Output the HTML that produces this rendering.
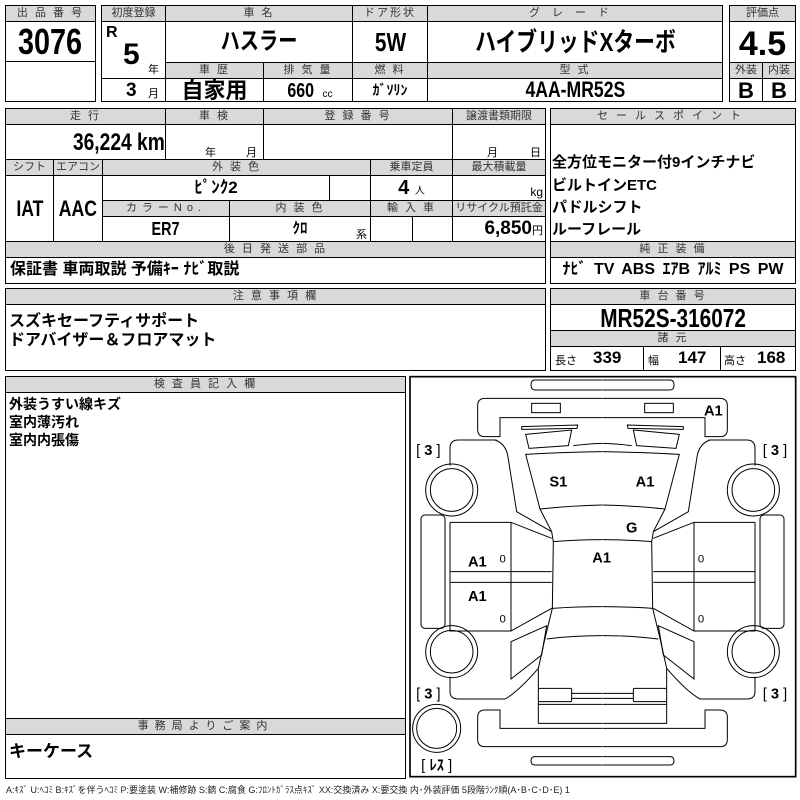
<!DOCTYPE html>
<html><head><meta charset="utf-8">
<style>
body{margin:0;width:800px;height:800px;background:#fff;position:relative;overflow:hidden;font-family:"Liberation Sans","Noto Sans CJK JP",sans-serif;color:#000}
.c{position:absolute;box-sizing:border-box;border:1px solid #000;overflow:hidden;white-space:nowrap}
.g{background:#d9d9d9;font-size:11px;text-align:center;line-height:14px;color:#333;letter-spacing:2px}
.b{font-family:"Liberation Sans Narrow","Liberation Sans","Noto Sans CJK JP",sans-serif;font-weight:bold;text-align:center}
.t{position:absolute;white-space:nowrap}
.k{font-family:"Liberation Sans","Noto Sans CJK JP",sans-serif;font-weight:bold}
.n{display:inline-block;transform:scaleX(.8)}
</style></head><body>

<div class="c g" style="left:5px;top:5px;width:91px;height:17px">出 品 番 号</div>
<div class="c b" style="left:5px;top:21px;width:91px;height:41px;font-size:36px;line-height:39px"><span class="n">3076</span></div>
<div class="c" style="left:5px;top:61px;width:91px;height:41px"></div>

<div class="c g" style="left:101px;top:5px;width:65px;height:17px;letter-spacing:0">初度登録</div>
<div class="c" style="left:101px;top:21px;width:65px;height:58px"></div>
<div class="c" style="left:101px;top:78px;width:65px;height:24px"></div>
<div class="t b" style="left:106px;top:24px;font-size:16px">R</div>
<div class="t b" style="left:123px;top:38px;font-size:30px">5</div>
<div class="t" style="left:148px;top:61px;font-size:11px">年</div>
<div class="t b" style="left:126px;top:80px;font-size:19px">3</div>
<div class="t" style="left:148px;top:85px;font-size:11px">月</div>

<div class="c g" style="left:165px;top:5px;width:188px;height:17px">車 名</div>
<div class="c b k" style="left:165px;top:21px;width:188px;height:42px;font-size:24px;line-height:40px"><span class="n">ハスラー</span></div>
<div class="c g" style="left:352px;top:5px;width:76px;height:17px">ドア形状</div>
<div class="c b" style="left:352px;top:21px;width:76px;height:42px;font-size:26px;line-height:40px"><span class="n">5W</span></div>
<div class="c g" style="left:427px;top:5px;width:296px;height:17px;letter-spacing:12px">グレード</div>
<div class="c b k" style="left:427px;top:21px;width:296px;height:42px;font-size:26px;line-height:40px"><span class="n">ハイブリッドXターボ</span></div>

<div class="c g" style="left:165px;top:62px;width:99px;height:17px">車 歴</div>
<div class="c g" style="left:263px;top:62px;width:90px;height:17px">排 気 量</div>
<div class="c g" style="left:352px;top:62px;width:76px;height:17px">燃 料</div>
<div class="c g" style="left:427px;top:62px;width:296px;height:17px">型 式</div>
<div class="c b k" style="left:165px;top:78px;width:99px;height:24px;font-size:22px;line-height:24px">自家用</div>
<div class="c b" style="left:263px;top:78px;width:90px;height:24px;font-size:20px;line-height:24px"><span class="n">660</span> <span style="font-size:10px;font-weight:normal">cc</span></div>
<div class="c b k" style="left:352px;top:78px;width:76px;height:24px;font-size:14px;line-height:22px">ｶﾞｿﾘﾝ</div>
<div class="c b" style="left:427px;top:78px;width:296px;height:24px;font-size:22px;line-height:22px"><span class="n">4AA-MR52S</span></div>

<div class="c g" style="left:729px;top:5px;width:67px;height:17px;letter-spacing:0">評価点</div>
<div class="c b" style="left:729px;top:21px;width:67px;height:42px;font-size:34px;line-height:44px">4.5</div>
<div class="c g" style="left:729px;top:62px;width:34px;height:17px;letter-spacing:0">外装</div>
<div class="c g" style="left:762px;top:62px;width:34px;height:17px;letter-spacing:0">内装</div>
<div class="c b" style="left:729px;top:78px;width:34px;height:24px;font-size:22px;line-height:24px">B</div>
<div class="c b" style="left:762px;top:78px;width:34px;height:24px;font-size:22px;line-height:24px">B</div>

<div class="c g" style="left:5px;top:108px;width:161px;height:17px">走 行</div>
<div class="c g" style="left:165px;top:108px;width:99px;height:17px">車 検</div>
<div class="c g" style="left:263px;top:108px;width:190px;height:17px">登 録 番 号</div>
<div class="c g" style="left:452px;top:108px;width:94px;height:17px;letter-spacing:0">譲渡書類期限</div>
<div class="c b" style="left:5px;top:124px;width:161px;height:36px;font-size:24px;line-height:36px;text-align:right;padding-right:0"><span class="n" style="transform-origin:right">36,224 km</span></div>
<div class="c" style="left:165px;top:124px;width:99px;height:36px"></div>
<div class="t" style="left:205px;top:144px;font-size:11px">年</div><div class="t" style="left:246px;top:144px;font-size:11px">月</div>
<div class="c" style="left:263px;top:124px;width:190px;height:36px"></div>
<div class="c" style="left:452px;top:124px;width:94px;height:36px"></div>
<div class="t" style="left:487px;top:144px;font-size:11px">月</div><div class="t" style="left:530px;top:144px;font-size:11px">日</div>

<div class="c g" style="left:5px;top:159px;width:49px;height:17px;letter-spacing:0">シフト</div>
<div class="c g" style="left:53px;top:159px;width:50px;height:17px;letter-spacing:0">エアコン</div>
<div class="c g" style="left:102px;top:159px;width:269px;height:17px">外 装 色</div>
<div class="c g" style="left:370px;top:159px;width:83px;height:17px;letter-spacing:0">乗車定員</div>
<div class="c g" style="left:452px;top:159px;width:94px;height:17px;letter-spacing:0">最大積載量</div>
<div class="c b" style="left:5px;top:175px;width:49px;height:67px;font-size:22px;line-height:65px"><span class="n">IAT</span></div>
<div class="c b" style="left:53px;top:175px;width:50px;height:67px;font-size:22px;line-height:65px"><span class="n">AAC</span></div>
<div class="c b k" style="left:102px;top:175px;width:228px;height:26px;font-size:17px;line-height:24px">ﾋﾟﾝｸ2</div>
<div class="c" style="left:329px;top:175px;width:42px;height:26px"></div>
<div class="c b" style="left:370px;top:175px;width:83px;height:26px;font-size:20px;line-height:24px">4 <span style="font-size:10px;font-weight:normal">人</span></div>
<div class="c" style="left:452px;top:175px;width:94px;height:26px;font-size:12px;text-align:right;line-height:32px;padding-right:2px">kg</div>
<div class="c g" style="left:102px;top:200px;width:128px;height:17px;letter-spacing:5px">カラーNo.</div>
<div class="c g" style="left:229px;top:200px;width:142px;height:17px">内 装 色</div>
<div class="c g" style="left:370px;top:200px;width:83px;height:17px">輸 入 車</div>
<div class="c g" style="left:452px;top:200px;width:94px;height:17px;letter-spacing:0">リサイクル預託金</div>
<div class="c b" style="left:102px;top:216px;width:128px;height:26px;font-size:18px;line-height:24px"><span class="n">ER7</span></div>
<div class="c b k" style="left:229px;top:216px;width:142px;height:26px;font-size:15px;line-height:24px">ｸﾛ</div>
<div class="t" style="left:356px;top:226px;font-size:11px">系</div>
<div class="c" style="left:370px;top:216px;width:43px;height:26px"></div>
<div class="c" style="left:412px;top:216px;width:41px;height:26px"></div>
<div class="c b" style="left:452px;top:216px;width:94px;height:26px;font-size:19px;line-height:24px;text-align:right;padding-right:2px">6,850<span style="font-size:11px;font-weight:normal">円</span></div>
<div class="c g" style="left:5px;top:241px;width:541px;height:17px">後 日 発 送 部 品</div>
<div class="c k" style="left:5px;top:257px;width:541px;height:27px;font-size:16px;line-height:24px;padding-left:4px">保証書 車両取説 予備ｷｰ ﾅﾋﾞ取説</div>

<div class="c g" style="left:550px;top:108px;width:246px;height:17px;letter-spacing:8px">セールスポイント</div>
<div class="c" style="left:550px;top:124px;width:246px;height:118px"></div>
<div class="t k" style="left:552px;top:151px;font-size:15px">全方位モニター付9インチナビ</div>
<div class="t k" style="left:552px;top:174px;font-size:15px">ビルトインETC</div>
<div class="t k" style="left:552px;top:196px;font-size:15px">パドルシフト</div>
<div class="t k" style="left:552px;top:218px;font-size:15px">ルーフレール</div>
<div class="c g" style="left:550px;top:241px;width:246px;height:17px">純 正 装 備</div>
<div class="c b" style="left:550px;top:257px;width:246px;height:27px;font-size:16px;line-height:24px;word-spacing:3px">ﾅﾋﾞ TV ABS ｴｱB ｱﾙﾐ PS PW</div>

<div class="c g" style="left:5px;top:288px;width:541px;height:17px">注 意 事 項 欄</div>
<div class="c" style="left:5px;top:304px;width:541px;height:67px"></div>
<div class="t k" style="left:9px;top:307px;font-size:16px">スズキセーフティサポート</div>
<div class="t k" style="left:9px;top:326px;font-size:16px">ドアバイザー＆フロアマット</div>
<div class="c g" style="left:550px;top:288px;width:246px;height:17px">車 台 番 号</div>
<div class="c b" style="left:550px;top:304px;width:246px;height:27px;font-size:26px;line-height:26px"><span class="n">MR52S-316072</span></div>
<div class="c g" style="left:550px;top:330px;width:246px;height:17px">諸 元</div>
<div class="c" style="left:550px;top:346px;width:94px;height:25px"></div>
<div class="c" style="left:643px;top:346px;width:78px;height:25px"></div>
<div class="c" style="left:720px;top:346px;width:76px;height:25px"></div>
<div class="t" style="left:555px;top:352px;font-size:11px">長さ</div><div class="t b" style="left:593px;top:348px;font-size:17px">339</div>
<div class="t" style="left:648px;top:352px;font-size:11px">幅</div><div class="t b" style="left:678px;top:348px;font-size:17px">147</div>
<div class="t" style="left:724px;top:352px;font-size:11px">高さ</div><div class="t b" style="left:757px;top:348px;font-size:17px">168</div>

<div class="c g" style="left:5px;top:376px;width:401px;height:17px">検 査 員 記 入 欄</div>
<div class="c" style="left:5px;top:392px;width:401px;height:387px"></div>
<div class="t k" style="left:9px;top:395px;font-size:14px;line-height:18px">外装うすい線キズ<br>室内薄汚れ<br>室内内張傷</div>
<div class="c g" style="left:5px;top:718px;width:401px;height:17px;letter-spacing:6px">事務局よりご案内</div>
<div class="t k" style="left:9px;top:737px;font-size:17px">キーケース</div>

<div class="t" style="left:6px;top:783px;font-size:9px;color:#222">A:ｷｽﾞ U:ﾍｺﾐ B:ｷｽﾞを伴うﾍｺﾐ P:要塗装 W:補修跡 S:錆 C:腐食 G:ﾌﾛﾝﾄｶﾞﾗｽ点ｷｽﾞ XX:交換済み X:要交換 内･外装評価 5段階ﾗﾝｸ順(A･B･C･D･E) 1</div>

<svg style="position:absolute;left:405px;top:375px" width="395" height="405" viewBox="0 0 1185 1215">
<g fill="none" stroke="#000" stroke-width="3">
<rect x="15" y="5" width="1157" height="1200" stroke-width="5"/>
<g id="half">
<path d="M592 15 L390 15 Q378 15 378 30 Q378 45 390 45 L592 45"/>
<path d="M592 128 L285 128 L285 185 L240 185 Q218 185 218 163 L218 92 Q218 70 240 70 L592 70"/>
<rect x="380" y="85" width="86" height="28"/>
<polygon points="350,155 518,150 516,160 350,163"/>
<polygon points="362,178 500,165 490,212 372,220"/>
<path d="M505 212 Q550 206 592 205"/>
<path d="M592 230 Q470 232 362 238 L405 402 Q500 392 592 390"/>
<path d="M405 402 L440 470"/>
<path d="M270 195 Q300 205 308 240 L335 410 L440 470 L445 500 Q520 494 592 494"/>
<path d="M445 500 L442 700 Q520 695 592 695"/>
<path d="M442 700 L420 790 L400 880 L400 940"/>
<path d="M425 792 Q500 782 592 782"/>
<rect x="400" y="940" width="100" height="40" rx="4"/>
<path d="M500 955 L592 955 M500 970 L592 970"/>
<path d="M400 980 L400 1045 L592 1045 M400 988 L592 988"/>
<path d="M592 1060 L285 1060 L285 1005 L240 1005 Q218 1005 218 1027 L218 1093 Q218 1115 240 1115 L592 1115"/>
<path d="M592 1145 L390 1145 Q378 1145 378 1157 Q378 1170 390 1170 L592 1170"/>
<path d="M275 195 L160 195 Q135 195 135 220 L135 272"/>
<circle cx="140" cy="345" r="78"/><circle cx="140" cy="345" r="64"/>
<rect x="48" y="420" width="72" height="340" rx="12"/>
<path d="M135 442 L318 442 L440 490 M318 442 L318 768 M135 442 L135 768 L318 768 L440 700 M135 590 L440 590 M135 622 L440 622"/>
<circle cx="140" cy="830" r="78"/><circle cx="140" cy="830" r="64"/>
<polygon points="318,800 425,752 410,840 318,912"/>
<path d="M135 905 L135 950 Q135 972 160 972 L300 972 Q340 950 400 880"/>
</g>
<use href="#half" transform="translate(1185 0) scale(-1 1)"/>
<circle cx="95" cy="1060" r="72"/><circle cx="95" cy="1060" r="60"/>
</g>
<g font-family="Liberation Sans, sans-serif" font-weight="bold" font-size="44" text-anchor="middle">
<text x="925" y="122">A1</text>
<text x="460" y="335">S1</text>
<text x="720" y="335">A1</text>
<text x="680" y="472">G</text>
<text x="590" y="562">A1</text>
<text x="217" y="575">A1</text>
<text x="217" y="678">A1</text>
</g>
<g font-family="Liberation Sans, sans-serif" font-size="34" text-anchor="middle">
<text x="293" y="562">0</text><text x="293" y="742">0</text>
<text x="888" y="562">0</text><text x="888" y="742">0</text>
</g>
<g font-family="Liberation Sans, sans-serif" font-size="44" text-anchor="middle">
<text x="70" y="240">[ <tspan font-weight="bold">3</tspan> ]</text>
<text x="1110" y="240">[ <tspan font-weight="bold">3</tspan> ]</text>
<text x="70" y="970">[ <tspan font-weight="bold">3</tspan> ]</text>
<text x="1110" y="970">[ <tspan font-weight="bold">3</tspan> ]</text>
<text x="95" y="1185" font-family="Liberation Sans, Noto Sans CJK JP, sans-serif">[ <tspan font-weight="bold">ﾚｽ</tspan> ]</text>
</g>
</svg>
</body></html>
